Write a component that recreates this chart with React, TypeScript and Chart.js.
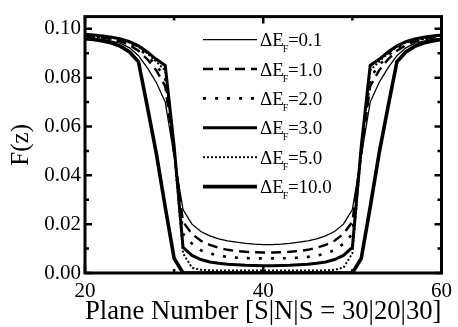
import React, { useEffect, useRef } from 'react';
import { Chart, registerables } from 'chart.js';

Chart.register(...registerables);

const planes = [20, 21, 22, 23, 24, 25, 26, 27, 28, 29, 30, 31, 32, 33, 34, 35, 36, 37, 38, 39, 40,
  41, 42, 43, 44, 45, 46, 47, 48, 49, 50, 51, 52, 53, 54, 55, 56, 57, 58, 59, 60];

const legendValues = ['0.1', '1.0', '2.0', '3.0', '5.0', '10.0'];

const fE01 = [0.0965, 0.0962, 0.0957, 0.0950, 0.0940, 0.0922, 0.0890, 0.0840, 0.0780, 0.0700, 0.0480,
  0.0260, 0.0200, 0.0170, 0.0152, 0.0140, 0.0132, 0.0126, 0.0121, 0.0118, 0.0116,
  0.0116, 0.0118, 0.0121, 0.0126, 0.0132, 0.0140, 0.0152, 0.0170, 0.0200, 0.0260,
  0.0480, 0.0700, 0.0780, 0.0840, 0.0890, 0.0922, 0.0940, 0.0950, 0.0957, 0.0962];

const fE10 = [0.0970, 0.0967, 0.0963, 0.0957, 0.0948, 0.0933, 0.0910, 0.0875, 0.0830, 0.0765, 0.0490,
  0.0210, 0.0160, 0.0132, 0.0115, 0.0103, 0.0095, 0.0090, 0.0087, 0.0085, 0.0084,
  0.0084, 0.0085, 0.0087, 0.0090, 0.0095, 0.0103, 0.0115, 0.0132, 0.0160, 0.0210,
  0.0490, 0.0765, 0.0830, 0.0875, 0.0910, 0.0933, 0.0948, 0.0957, 0.0963, 0.0967];

const fE20 = [0.0972, 0.0969, 0.0965, 0.0960, 0.0952, 0.0940, 0.0920, 0.0890, 0.0850, 0.0800, 0.0500,
  0.0160, 0.0120, 0.0093, 0.0080, 0.0071, 0.0066, 0.0063, 0.0061, 0.0060, 0.0060,
  0.0060, 0.0060, 0.0061, 0.0063, 0.0066, 0.0071, 0.0080, 0.0093, 0.0120, 0.0160,
  0.0500, 0.0800, 0.0850, 0.0890, 0.0920, 0.0940, 0.0952, 0.0960, 0.0965, 0.0969];

const fE30 = [0.0978, 0.0975, 0.0971, 0.0966, 0.0958, 0.0947, 0.0930, 0.0905, 0.0875, 0.0850, 0.0520,
  0.0105, 0.0072, 0.0055, 0.0045, 0.0040, 0.0036, 0.0034, 0.0032, 0.0031, 0.0030,
  0.0030, 0.0031, 0.0032, 0.0034, 0.0036, 0.0040, 0.0045, 0.0055, 0.0072, 0.0105,
  0.0520, 0.0850, 0.0875, 0.0905, 0.0930, 0.0947, 0.0958, 0.0966, 0.0971, 0.0975];

const fE50 = [0.0975, 0.0972, 0.0968, 0.0963, 0.0955, 0.0944, 0.0926, 0.0900, 0.0865, 0.0830, 0.0500,
  0.0080, 0.0022, 0.0013, 0.0011, 0.0010, 0.0010, 0.0010, 0.0010, 0.0010, 0.0010,
  0.0010, 0.0010, 0.0010, 0.0010, 0.0010, 0.0010, 0.0011, 0.0013, 0.0022, 0.0080,
  0.0500, 0.0830, 0.0865, 0.0900, 0.0926, 0.0944, 0.0955, 0.0963, 0.0968, 0.0972];

const fE100 = [0.0960, 0.0956, 0.0950, 0.0942, 0.0928, 0.0905, 0.0865, 0.0680, 0.0490, 0.0270, 0.0060,
  0.0000, 0.0000, 0.0000, 0.0000, 0.0000, 0.0000, 0.0000, 0.0000, 0.0000, 0.0000,
  0.0000, 0.0000, 0.0000, 0.0000, 0.0000, 0.0000, 0.0000, 0.0000, 0.0000, 0.0000,
  0.0060, 0.0270, 0.0490, 0.0680, 0.0865, 0.0905, 0.0928, 0.0942, 0.0950, 0.0956];

const xMajorTicks = [20, 40, 60];

const SERIF = "'Liberation Serif', 'Times New Roman', serif";

const lineStyles = [
  { w: 1.3, dash: [] as number[] },
  { w: 2.4, dash: [10, 6] },
  { w: 2.6, dash: [3, 9] },
  { w: 3.0, dash: [] as number[] },
  { w: 2.0, dash: [2, 2] },
  { w: 3.6, dash: [] as number[] },
];

export default function App() {
  const ref = useRef<HTMLCanvasElement>(null);

  useEffect(() => {
    if (!ref.current) return;
    const series = [fE01, fE10, fE20, fE30, fE50, fE100];

    const datasets = series.map((s, i) => ({
      label: 'ΔEF=' + legendValues[i],
      data: planes.map((p, j) => ({ x: p, y: s[j] })),
      borderColor: '#000',
      backgroundColor: '#000',
      borderWidth: lineStyles[i].w,
      borderDash: lineStyles[i].dash,
      pointRadius: 0,
      tension: 0,
      fill: false,
      borderCapStyle: 'butt' as const,
      borderJoinStyle: 'miter' as const,
    }));

    const framePlugin = {
      id: 'framePlugin',
      afterDraw(chart: any) {
        const ctx = chart.ctx;
        const a = chart.chartArea;
        const xs = chart.scales.x;
        const ys = chart.scales.y;
        ctx.save();
        ctx.strokeStyle = '#000';
        ctx.setLineDash([]);
        ctx.lineWidth = 2.5;
        ys.ticks.forEach((t: any) => {
          const y = ys.getPixelForValue(t.value);
          const major = Math.round(t.value * 100) % 2 === 0;
          const len = major ? 7 : 4;
          ctx.beginPath();
          ctx.moveTo(a.left, y); ctx.lineTo(a.left + len, y);
          ctx.moveTo(a.right, y); ctx.lineTo(a.right - len, y);
          ctx.stroke();
        });
        xs.ticks.forEach((t: any) => {
          const x = xs.getPixelForValue(t.value);
          const major = xMajorTicks.includes(Math.round(t.value));
          const len = major ? 7 : 4;
          ctx.beginPath();
          ctx.moveTo(x, a.bottom); ctx.lineTo(x, a.bottom - len);
          ctx.moveTo(x, a.top); ctx.lineTo(x, a.top + len);
          ctx.stroke();
        });
        ctx.lineWidth = 3;
        ctx.strokeRect(a.left, a.top, a.right - a.left, a.bottom - a.top);

        // legend
        const lx0 = a.left + 118;
        const lx1 = a.left + 172;
        const tx = a.left + 175;
        series.forEach((_, i) => {
          const y = a.top + 23 + i * 29.4;
          ctx.lineWidth = lineStyles[i].w;
          ctx.setLineDash(lineStyles[i].dash);
          ctx.beginPath();
          ctx.moveTo(lx0, y); ctx.lineTo(lx1, y);
          ctx.stroke();
          ctx.setLineDash([]);
          ctx.fillStyle = '#000';
          ctx.textBaseline = 'alphabetic';
          ctx.textAlign = 'left';
          const base = y + 6.5;
          ctx.font = `19px ${SERIF}`;
          ctx.fillText('ΔE', tx, base);
          const w1 = ctx.measureText('ΔE').width;
          ctx.font = `10px ${SERIF}`;
          ctx.fillText('F', tx + w1 - 1, base + 6);
          const w2 = ctx.measureText('F').width;
          ctx.font = `19px ${SERIF}`;
          ctx.fillText('=' + legendValues[i], tx + w1 + w2 - 1.5, base);
        });
        ctx.restore();
      },
    };

    const chart = new Chart(ref.current, {
      type: 'line',
      data: { datasets },
      options: {
        animation: false,
        responsive: false,
        devicePixelRatio: 1,
        layout: { padding: { left: 0, top: 10, right: 12, bottom: 0 } },
        plugins: { legend: { display: false }, tooltip: { enabled: false } },
        scales: {
          x: {
            type: 'linear',
            min: 20,
            max: 60,
            border: { display: false },
            grid: { display: false, drawTicks: false },
            ticks: {
              stepSize: 10,
              autoSkip: false,
              maxRotation: 0,
              padding: 6,
              color: '#000',
              font: { family: SERIF, size: 21 },
              callback: (v: any) => (xMajorTicks.includes(Math.round(Number(v))) ? String(v) : ''),
            },
            title: {
              display: true,
              text: 'Plane Number [S|N|S = 30|20|30]',
              color: '#000',
              font: { family: SERIF, size: 27 },
              padding: { top: 0, bottom: -1 },
            },
            afterFit: (s: any) => { s.height = 54; },
          },
          y: {
            type: 'linear',
            min: 0,
            max: 0.105,
            border: { display: false },
            grid: { display: false, drawTicks: false },
            ticks: {
              stepSize: 0.01,
              includeBounds: false,
              autoSkip: false,
              padding: 4,
              color: '#000',
              font: { family: SERIF, size: 21 },
              callback: (v: any) => (Math.round(Number(v) * 100) % 2 === 0 ? Number(v).toFixed(2) : ''),
            },
            title: {
              display: true,
              text: 'F(z)',
              color: '#000',
              font: { family: SERIF, size: 25 },
              padding: { top: 6, bottom: 0 },
            },
            afterFit: (s: any) => { s.width = 85; },
          },
        },
      },
      plugins: [framePlugin],
    });
    return () => chart.destroy();
  }, []);

  return (
    <div style={{ position: 'absolute', left: 0, top: 0, width: 458, height: 327, background: '#fff' }}>
      <canvas ref={ref} width={458} height={327} style={{ display: 'block' }} />
    </div>
  );
}
